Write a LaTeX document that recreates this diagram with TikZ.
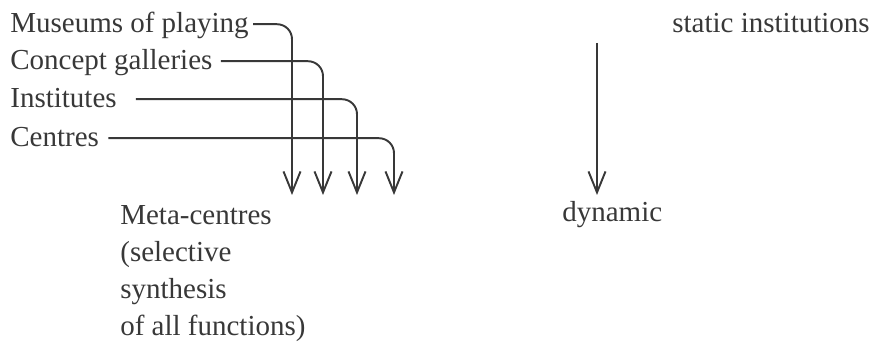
\documentclass[tikz,border=0pt]{standalone}
\usepackage{fontspec}
\setmainfont{Liberation Serif}
\usetikzlibrary{positioning,arrows.meta}
\definecolor{ink}{HTML}{383838}
\tikzstyle{word}  = [inner sep=0pt, text=ink, font=\fontsize{16.5}{21}\selectfont]
\tikzstyle{term}  = [word, anchor=base west, text height=13pt, text depth=3pt]
\tikzstyle{arrow} = [draw=ink, line width=1.1pt, rounded corners=0.3cm, -{Straight Barb[length=0.42cm,width=0.34cm]}]

\begin{document}
\begin{tikzpicture}[x=0.02cm, y=-0.02cm]
        \useasboundingbox (0,0) rectangle (876,344);

        % kinds of institution, left column
        \node[term] (museums)   at (10,33)  {Museums of playing};
        \node[term] (galleries) at (10,70)  {Concept galleries};
        \node[term] (institutes) at (10,108) {Institutes};
        \node[term] (centres)   at (10,147) {Centres};

        \node[word, align=left, anchor=north west] (meta) at (120,205)
            {Meta-centres\\(selective\\synthesis\\of all functions)};

        % right column
        \node[term] (static)  at (672,33)  {static institutions};
        \node[term] (dynamic) at (562,222) {dynamic};

        \coordinate (tip1) at (292,195);
        \coordinate (tip2) at (323,195);
        \coordinate (tip3) at (357,195);
        \coordinate (tip4) at (394,195);
        \coordinate (shift) at (597,43);

        \draw[arrow] ([xshift=0.08cm]museums.east) -| (tip1);
        \draw[arrow] ([xshift=0.16cm]galleries.east) -| (tip2);
        \draw[arrow] ([xshift=0.38cm]institutes.east) -| (tip3);
        \draw[arrow] ([xshift=0.18cm]centres.east) -| (tip4);

        \draw[arrow] (shift) -- (shift |- tip1);
\end{tikzpicture}
\end{document}
